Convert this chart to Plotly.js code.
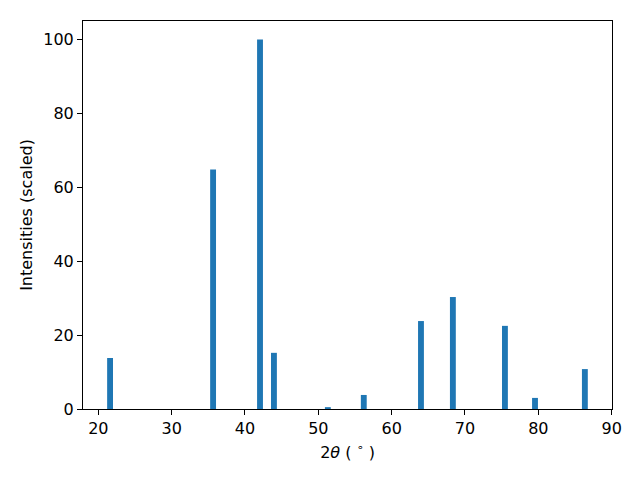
<!DOCTYPE html>
<html>
<head>
<meta charset="utf-8">
<script src="https://cdn.plot.ly/plotly-3.0.1.min.js"></script>
<style>html,body{margin:0;padding:0;background:#fff;}</style>
</head>
<body>
<div id="chart" style="width:640px;height:480px;"></div>
<script>
const twoTheta = [21.6, 35.65, 42.05, 43.95, 51.3, 56.2, 64.0, 68.35, 75.45, 79.55, 86.35];
const intensities = [13.8, 64.8, 100, 15.2, 0.5, 3.8, 23.8, 30.3, 22.5, 3.0, 10.8];
const xTicks = [20, 30, 40, 50, 60, 70, 80, 90];
const yTicks = [0, 20, 40, 60, 80, 100];

const fontFam = 'DejaVu Sans, sans-serif';
Plotly.newPlot('chart', [{
  type: 'bar',
  x: twoTheta,
  y: intensities,
  width: 0.8,
  marker: {color: '#1f77b4', line: {width: 0}},
  hoverinfo: 'skip'
}], {
  width: 640, height: 480,
  margin: {l: 83, r: 28, t: 21, b: 71, pad: 0},
  paper_bgcolor: '#fff', plot_bgcolor: '#fff',
  showlegend: false,
  font: {family: fontFam, size: 16, color: '#000'},
  xaxis: {
    range: [17.91, 90.05],
    tickvals: xTicks,
    ticktext: xTicks.map(String),
    ticks: 'outside', ticklen: 5, tickwidth: 1, tickcolor: '#000',
    showline: true, mirror: true, linecolor: '#000', linewidth: 1,
    showgrid: false, zeroline: false,
    tickfont: {family: fontFam, size: 16, color: '#000'},
    title: {text: '2<i>θ</i> ( <sup>∘</sup> )', font: {family: fontFam, size: 16, color: '#000'}, standoff: 9}
  },
  yaxis: {
    range: [0, 105],
    tickvals: yTicks,
    ticktext: yTicks.map(String),
    ticks: 'outside', ticklen: 5, tickwidth: 1, tickcolor: '#000',
    showline: true, mirror: true, linecolor: '#000', linewidth: 1,
    showgrid: false, zeroline: false,
    tickfont: {family: fontFam, size: 16, color: '#000'},
    title: {text: 'Intensities (scaled)', font: {family: fontFam, size: 16, color: '#000'}, standoff: 6}
  }
}, {displayModeBar: false, staticPlot: true});
</script>
</body>
</html>
